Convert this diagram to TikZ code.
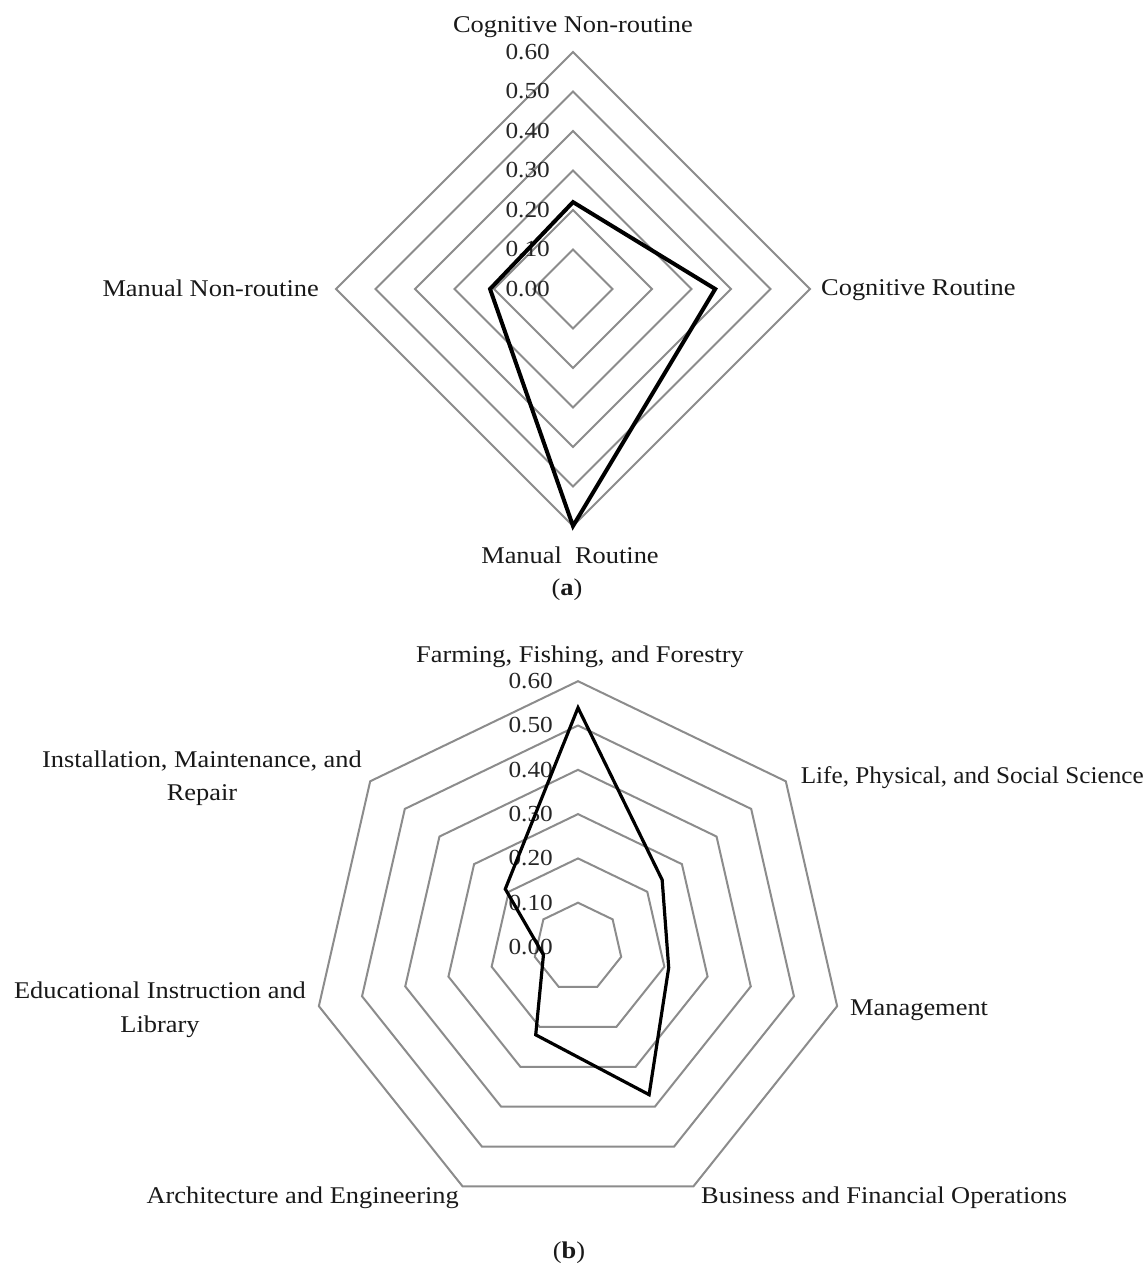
\documentclass[tikz,border=0pt]{standalone}
\usepackage{fontspec}
\setmainfont[FakeStretch=1.1]{Liberation Serif}
\definecolor{gridgray}{HTML}{8C8C8C}
\begin{document}
\begin{tikzpicture}[x=1pt,y=-1pt,
  font=\fontsize{24}{28}\selectfont,
  grid/.style={draw=gridgray, line width=2pt, line join=miter},
  seriesa/.style={draw=black, line width=4pt, line join=miter},
  seriesb/.style={draw=black, line width=3.2pt, line join=miter},
  lbl/.style={inner sep=0pt, text=black!90},
  tick/.style={inner sep=0pt, anchor=east, font=\fontsize{23}{26}\selectfont, text=black!85}]
\useasboundingbox (0,0) rectangle (1145,1269);
\fill[white] (0,0) rectangle (1145,1269);

% ---------- chart (a): diamond radar ----------
\def\cax{573}\def\cay{289}\def\sa{395}
\foreach \k in {1,...,6}{
  \pgfmathsetmacro\r{\k*0.1*\sa}
  \draw[grid] (\cax,\cay-\r) -- (\cax+\r,\cay) -- (\cax,\cay+\r) -- (\cax-\r,\cay) -- cycle;
}
\foreach \k/\t in {0/0.00,1/0.10,2/0.20,3/0.30,4/0.40,5/0.50,6/0.60}{
  \node[tick] (ta\k) at (550,{\cay-\k*0.1*\sa}) {\t};
}
\coordinate (a0) at (\cax,{\cay-0.22*\sa});
\coordinate (a1) at ({\cax+0.36*\sa},\cay);
\coordinate (a2) at (\cax,{\cay+0.60*\sa});
\coordinate (a3) at ({\cax-0.21*\sa},\cay);
\draw[seriesa] (a0) -- (a1) -- (a2) -- (a3) -- cycle;

\node[lbl, anchor=base] (cnr) at (573,32) {Cognitive Non-routine};
\node[lbl, anchor=base west] (cr) at (821,295) {Cognitive Routine};
\node[lbl, anchor=base east] (mnr) at (319,296) {Manual Non-routine};
\node[lbl, anchor=base] (mr) at (570,563) {Manual\ \ Routine};
\node[lbl, anchor=base] (capa) at (567,595) {(\textbf{a})};

% ---------- chart (b): heptagon radar ----------
\def\cbx{578}\def\cby{947}\def\sb{443}
\foreach \k in {1,...,6}{
  \pgfmathsetmacro\r{\k*0.1*\sb}
  \draw[grid] (\cbx,\cby-\r)
    \foreach \j in {1,...,6}{ -- ({\cbx+\r*cos(90-\j*360/7)},{\cby-\r*sin(90-\j*360/7)}) } -- cycle;
}
\foreach \k/\t in {0/0.00,1/0.10,2/0.20,3/0.30,4/0.40,5/0.50,6/0.60}{
  \node[tick] (tb\k) at (553,{\cby-\k*0.1*\sb}) {\t};
}
\foreach \v [count=\j from 0] in {0.54,0.243,0.21,0.37,0.22,0.08,0.21}{
  \coordinate (b\j) at ({\cbx+\v*\sb*cos(90-\j*360/7)},{\cby-\v*\sb*sin(90-\j*360/7)});
}
\draw[seriesb] (b0) -- (b1) -- (b2) -- (b3) -- (b4) -- (b5) -- (b6) -- cycle;

\node[lbl, anchor=base] (ffl) at (580,662) {Farming, Fishing, and Forestry};
\node[lbl, anchor=base east] (lps) at (1144,783) {\scalebox{0.955}[1]{Life, Physical, and Social Science}};
\node[lbl, anchor=base] (imr1) at (202,767) {Installation, Maintenance, and};
\node[lbl, anchor=base] (imr2) at (202,800) {Repair};
\node[lbl, anchor=base west] (man) at (850,1015) {Management};
\node[lbl, anchor=base] (eil1) at (160,998) {Educational Instruction and};
\node[lbl, anchor=base] (eil2) at (160,1032) {Library};
\node[lbl, anchor=base west] (bfo) at (701,1203) {Business and Financial Operations};
\node[lbl, anchor=base east] (ae) at (459,1203) {Architecture and Engineering};
\node[lbl, anchor=base] (capb) at (569,1258) {(\textbf{b})};
\end{tikzpicture}
\end{document}
